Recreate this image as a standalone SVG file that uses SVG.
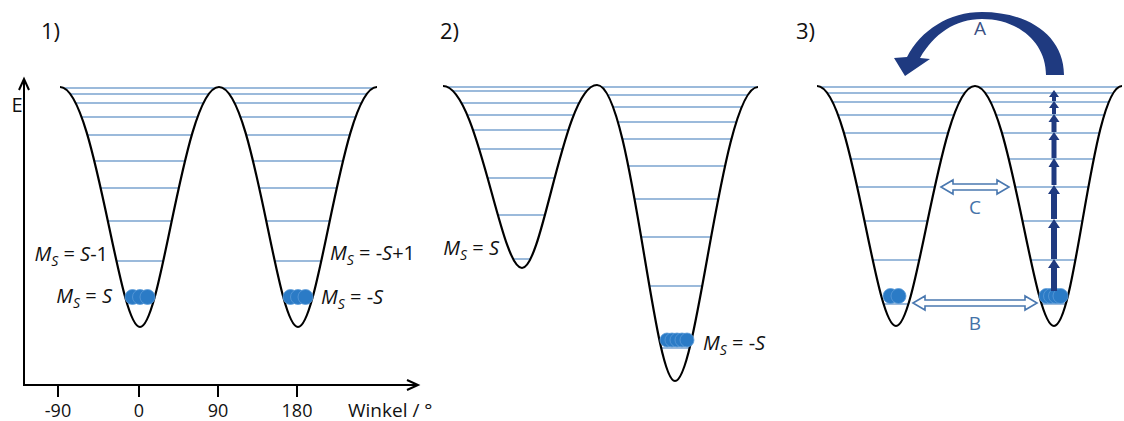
<svg xmlns="http://www.w3.org/2000/svg" width="1124" height="421" viewBox="0 0 1124 421">
<style>
.curve{fill:none;stroke:#000;stroke-width:2.2;stroke-linejoin:round}
.lvl{stroke:#7aa3cf;stroke-width:1.5}
.dot{fill:#2b7bc6;stroke:#5b9bd8;stroke-width:0.8}
.txt{font-family:"Open Sans","Liberation Sans",sans-serif;fill:#111}
.lab{font-family:"Open Sans","Liberation Sans",sans-serif;font-size:20px;fill:#111}
.it{font-style:italic}
.axis{stroke:#000;stroke-width:2;fill:none}
.nav{fill:#1f3a80}
.hollow{fill:#fff;stroke:#4a78b0;stroke-width:1.6;stroke-linejoin:miter}
.blt{font-family:"Open Sans","Liberation Sans",sans-serif;font-size:19px;fill:#4472a8;text-anchor:middle}
</style>
<defs>
<clipPath id="c1"><path d="M 60 87 C 95 87, 118 327, 140 327 C 162 327, 184 87, 219 87 C 254 87, 276 327, 298 327 C 320 327, 342 87, 377 87 L 377 70 L 60 70 Z"/></clipPath>
<clipPath id="c2"><path d="M 443 86 C 478 86, 500 268, 522 268 C 543 268, 564 85, 597 85 C 631 85, 653 381, 675 381 C 698 381, 722 87, 758 87 L 758 70 L 443 70 Z"/></clipPath>
<clipPath id="c3"><path d="M 817 86 C 852 86, 874 326, 896 326 C 918 326, 940 86, 975 86 C 1010 86, 1032 326, 1054 326 C 1076 326, 1092 86, 1122 86 L 1124 86 L 1124 70 L 817 70 Z"/></clipPath>
</defs>
<rect width="1124" height="421" fill="#fff"/>

<g id="axes">
<line class="axis" x1="24" y1="385" x2="24" y2="80"/>
<polyline class="axis" points="19,90 24,79 29,90"/>
<line class="axis" x1="23" y1="385" x2="417" y2="385"/>
<polyline class="axis" points="407,380 418,385 407,390"/>
<line class="axis" x1="58" y1="385" x2="58" y2="397"/>
<line class="axis" x1="139" y1="385" x2="139" y2="397"/>
<line class="axis" x1="218" y1="385" x2="218" y2="397"/>
<line class="axis" x1="297" y1="385" x2="297" y2="397"/>
<text class="txt" x="17" y="112" font-size="20" text-anchor="middle">E</text>
<g class="txt" font-size="18" text-anchor="middle">
<text x="58" y="417">-90</text>
<text x="139" y="417">0</text>
<text x="218" y="417">90</text>
<text x="297" y="417">180</text>
</g>
<text class="txt" x="348" y="417" font-size="19">Winkel / °</text>
</g>

<g id="panel1">
<text class="txt" x="41" y="39" font-size="22">1)</text>
<g clip-path="url(#c1)">
<g class="lvl">
<line x1="55" x2="382" y1="88" y2="88"/>
<line x1="55" x2="382" y1="94" y2="94"/>
<line x1="55" x2="382" y1="103" y2="103"/>
<line x1="55" x2="382" y1="117" y2="117"/>
<line x1="55" x2="382" y1="135" y2="135"/>
<line x1="55" x2="382" y1="161" y2="161"/>
<line x1="55" x2="382" y1="188" y2="188"/>
<line x1="55" x2="382" y1="221" y2="221"/>
<line x1="55" x2="382" y1="261" y2="261"/>
<line x1="55" x2="382" y1="303" y2="303"/>
</g>
</g>
<path class="curve" d="M 60 87 C 95 87, 118 327, 140 327 C 162 327, 184 87, 219 87 C 254 87, 276 327, 298 327 C 320 327, 342 87, 377 87"/>
<g class="dot">
<circle cx="132.5" cy="297" r="7.5"/><circle cx="140" cy="297" r="7.5"/><circle cx="147.5" cy="297" r="7.5"/>
<circle cx="290.5" cy="297" r="7.5"/><circle cx="298" cy="297" r="7.5"/><circle cx="305.5" cy="297" r="7.5"/>
</g>
<text class="lab" x="108" y="261" text-anchor="end"><tspan class="it">M</tspan><tspan class="it" font-size="14" dy="5">S</tspan><tspan dy="-5"> = </tspan><tspan class="it">S</tspan>-1</text>
<text class="lab" x="112" y="303" text-anchor="end"><tspan class="it">M</tspan><tspan class="it" font-size="14" dy="5">S</tspan><tspan dy="-5"> = </tspan><tspan class="it">S</tspan></text>
<text class="lab" x="330" y="260"><tspan class="it">M</tspan><tspan class="it" font-size="14" dy="5">S</tspan><tspan dy="-5"> = -</tspan><tspan class="it">S</tspan>+1</text>
<text class="lab" x="321" y="304"><tspan class="it">M</tspan><tspan class="it" font-size="14" dy="5">S</tspan><tspan dy="-5"> = -</tspan><tspan class="it">S</tspan></text>
</g>

<g id="panel2">
<text class="txt" x="440" y="39" font-size="22">2)</text>
<g clip-path="url(#c2)">
<g class="lvl">
<line x1="438" x2="597" y1="87" y2="87"/>
<line x1="438" x2="597" y1="91" y2="91"/>
<line x1="438" x2="597" y1="103" y2="103"/>
<line x1="438" x2="597" y1="115" y2="115"/>
<line x1="438" x2="597" y1="130" y2="130"/>
<line x1="438" x2="597" y1="149" y2="149"/>
<line x1="438" x2="597" y1="178" y2="178"/>
<line x1="438" x2="597" y1="215" y2="215"/>
<line x1="438" x2="597" y1="259" y2="259"/>
<line x1="597" x2="762" y1="87" y2="87"/>
<line x1="597" x2="762" y1="95" y2="95"/>
<line x1="597" x2="762" y1="107" y2="107"/>
<line x1="597" x2="762" y1="122" y2="122"/>
<line x1="597" x2="762" y1="139" y2="139"/>
<line x1="597" x2="762" y1="166" y2="166"/>
<line x1="597" x2="762" y1="199" y2="199"/>
<line x1="597" x2="762" y1="237" y2="237"/>
<line x1="597" x2="762" y1="286" y2="286"/>
<line x1="597" x2="762" y1="348" y2="348"/>
</g>
</g>
<path class="curve" d="M 443 86 C 478 86, 500 268, 522 268 C 543 268, 564 85, 597 85 C 631 85, 653 381, 675 381 C 698 381, 722 87, 758 87"/>
<g class="dot">
<circle cx="667" cy="340" r="7"/><circle cx="672" cy="340" r="7"/><circle cx="677" cy="340" r="7"/><circle cx="682" cy="340" r="7"/><circle cx="687" cy="340" r="7"/>
</g>
<text class="lab" x="499" y="255" text-anchor="end"><tspan class="it">M</tspan><tspan class="it" font-size="14" dy="5">S</tspan><tspan dy="-5"> = </tspan><tspan class="it">S</tspan></text>
<text class="lab" x="703" y="350"><tspan class="it">M</tspan><tspan class="it" font-size="14" dy="5">S</tspan><tspan dy="-5"> = -</tspan><tspan class="it">S</tspan></text>
</g>

<g id="panel3">
<text class="txt" x="796" y="39" font-size="22">3)</text>
<g clip-path="url(#c3)">
<g class="lvl">
<line x1="812" x2="1124" y1="87" y2="87"/>
<line x1="812" x2="1124" y1="93" y2="93"/>
<line x1="812" x2="1124" y1="102" y2="102"/>
<line x1="812" x2="1124" y1="115" y2="115"/>
<line x1="812" x2="1124" y1="133" y2="133"/>
<line x1="812" x2="1124" y1="159" y2="159"/>
<line x1="812" x2="1124" y1="187" y2="187"/>
<line x1="812" x2="1124" y1="221" y2="221"/>
<line x1="812" x2="1124" y1="260" y2="260"/>
<line x1="812" x2="1124" y1="304" y2="304"/>
</g>
</g>
<path class="curve" d="M 817 86 C 852 86, 874 326, 896 326 C 918 326, 940 86, 975 86 C 1010 86, 1032 326, 1054 326 C 1076 326, 1092 86, 1122 86"/>
<g class="dot">
<circle cx="890.5" cy="296" r="7.5"/><circle cx="898.5" cy="296" r="7.5"/>
<circle cx="1046.5" cy="296" r="7.5"/><circle cx="1051" cy="296" r="7.5"/><circle cx="1056" cy="296" r="7.5"/><circle cx="1060.5" cy="296" r="7.5"/>
</g>
</g>

<g id="connectors">
<g id="arrowA">
<path class="nav" d="M 1064 75 C 1064 35, 1027 12, 982 12 C 949 12, 921 30, 907 57 L 894 58 L 905 76 L 930 59 L 920 58 C 934 34, 955 19, 982 19 C 1018 19, 1046 42, 1046 75 Z"/>
<text x="980" y="35" font-family="'Open Sans','Liberation Sans',sans-serif" font-size="19" fill="#3b5184" text-anchor="middle">A</text>
</g>
<g id="ladder" class="nav">
<path d="M1051 291 V268 H1048 L1054 259 L1060 268 H1057 V291 Z"/>
<path d="M1051 259 V228 H1048 L1054 219 L1060 228 H1057 V259 Z"/>
<path d="M1051 219 V194 H1048 L1054 185 L1060 194 H1057 V219 Z"/>
<path d="M1051.5 185 V167 H1048.5 L1054 158 L1059.5 167 H1056.5 V185 Z"/>
<path d="M1051.5 158 V140 H1048.5 L1054 132 L1059.5 140 H1056.5 V158 Z"/>
<path d="M1051.5 132 V122 H1048.5 L1054 114 L1059.5 122 H1056.5 V132 Z"/>
<path d="M1052 114 V108 H1049 L1054 101 L1059 108 H1056 V114 Z"/>
<path d="M1052 101 V97 H1049 L1054 90 L1059 97 H1056 V101 Z"/>
</g>
<g id="arrowC">
<path class="hollow" d="M 941 187 L 953 180 L 953 184 L 997 184 L 997 180 L 1009 187 L 997 194 L 997 190 L 953 190 L 953 194 Z"/>
<text class="blt" x="975" y="214">C</text>
</g>
<g id="arrowB">
<path class="hollow" d="M 913 303 L 925 296 L 925 300 L 1025 300 L 1025 296 L 1037 303 L 1025 310 L 1025 306 L 925 306 L 925 310 Z"/>
<text class="blt" x="975" y="330">B</text>
</g>
</g>
</svg>
